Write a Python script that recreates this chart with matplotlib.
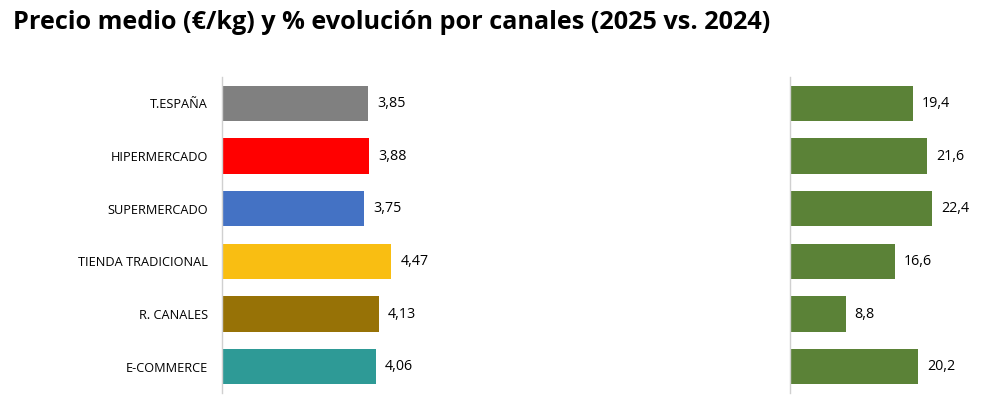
import matplotlib.pyplot as plt

canales = ["T.ESPAÑA", "HIPERMERCADO", "SUPERMERCADO", "TIENDA TRADICIONAL", "R. CANALES", "E-COMMERCE"]
precio = [3.85, 3.88, 3.75, 4.47, 4.13, 4.06]
evolucion = [19.4, 21.6, 22.4, 16.6, 8.8, 20.2]
colores = ["#808080", "#FF0000", "#4472C4", "#F9BE12", "#977206", "#2E9A96"]
verde = "#5B8237"

plt.rcParams['font.family'] = ['Open Sans', 'DejaVu Sans']

W, H = 997, 409
fig = plt.figure(figsize=(W / 100, H / 100), dpi=100)

def axes_px(x0, y0, w, h):
    # pixel box (top-left origin) -> figure fraction
    return fig.add_axes([x0 / W, (H - y0 - h) / H, w / W, h / H])

ax1 = axes_px(222, 77, 300, 316)
ax2 = axes_px(790, 77, 180, 316)

y = list(range(len(canales)))

ax1.barh(y, precio, height=0.665, color=colores)
ax1.set_xlim(0, 300 / 37.9)
for yi, v in zip(y, precio):
    ax1.text(v + 0.24, yi, f"{v:.2f}".replace(".", ","), va="center", ha="left", fontsize=10.3)
ax1.set_yticks(y)
ax1.set_yticklabels(canales, fontsize=9.2)
ax1.tick_params(axis="y", length=0, pad=10)

ax2.barh(y, evolucion, height=0.665, color=verde)
ax2.set_xlim(0, 180 / 6.34)
for yi, v in zip(y, evolucion):
    ax2.text(v + 1.4, yi, f"{v:.1f}".replace(".", ","), va="center", ha="left", fontsize=10.3)
ax2.set_yticks([])

for ax in (ax1, ax2):
    ax.set_ylim(len(canales) - 0.5, -0.5)
    ax.set_xticks([])
    for s in ("top", "right", "bottom"):
        ax.spines[s].set_visible(False)
    ax.spines["left"].set_color("#D0D0D0")
    ax.spines["left"].set_linewidth(1.0)

fig.text(13 / W, 1 - 29 / H, "Precio medio (€/kg) y % evolución por canales (2025 vs. 2024)",
         fontsize=18.2, fontweight="bold", ha="left", va="baseline")

fig.savefig("out.png", dpi=100)
